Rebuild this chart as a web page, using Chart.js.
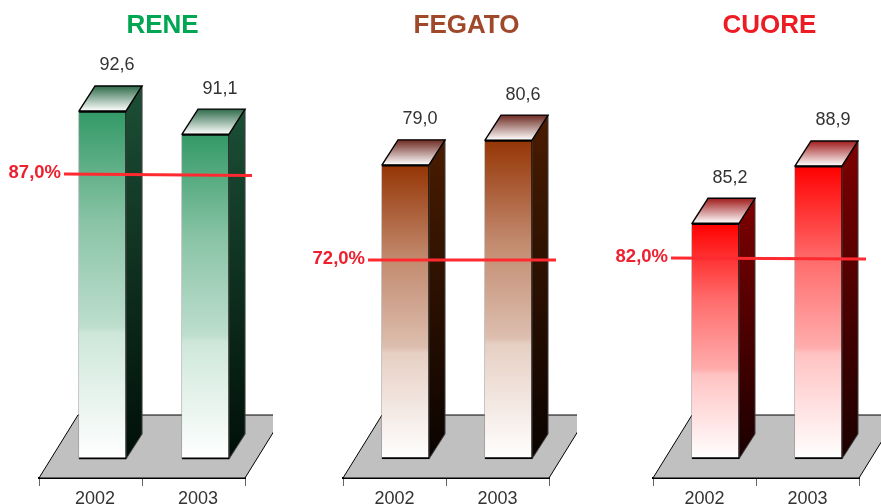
<!DOCTYPE html>
<html><head><meta charset="utf-8">
<style>
html,body{margin:0;padding:0;background:#fff;width:881px;height:504px;overflow:hidden}
canvas{position:absolute;top:0}
</style>
<script src="https://cdn.jsdelivr.net/npm/chart.js@4"></script>
</head><body>
<canvas id="c0" width="325" height="504" style="left:0"></canvas>
<canvas id="c1" width="333" height="504" style="left:300px"></canvas>
<canvas id="c2" width="339" height="504" style="left:600px"></canvas>
<script>
const categories = ['2002', '2003'];
const panelNames = ['RENE', 'FEGATO', 'CUORE'];
const reneValues = [92.6, 91.1];
const fegatoValues = [79.0, 80.6];
const cuoreValues = [85.2, 88.9];
const targetValues = [87.0, 72.0, 82.0];
// y level at which each hand-placed target line sits (start, end)
const reneLineLevels = [88.51, 88.41];
const fegatoLineLevels = [72.85, 72.85];
const cuoreLineLevels = [82.96, 82.90];
const barPositions = [0, 1];
const lineSpanRene = [-0.374, 1.451];
const lineSpanFegato = [-0.364, 1.461];
const lineSpanCuore = [-0.432, 1.461];
const axisBase = [70, 60, 70];
const axisMin = [68.77, 58.77, 68.77];
const axisMax = [96.56, 86.42, 96.38];

const styles = [
  {title:'#00a651', front:'#339966', topBack:'#2f6b4a', sideTop:'#1c4f36', sideBot:'#000f08', left:0, width:325, axisL:39, axisR:245, xMin:-0.617, labelOffset:4.5, titleShift:20.5},
  {title:'#a0492a', front:'#953505', topBack:'#6e2a22', sideTop:'#4a1c00', sideBot:'#0a0300', left:300, width:333, axisL:43, axisR:249, xMin:-0.607, labelOffset:0, titleShift:20.5},
  {title:'#ed1c24', front:'#ff0000', topBack:'#a01c1c', sideTop:'#7f0000', sideBot:'#1a0000', left:600, width:339, axisL:53, axisR:259, xMin:-0.607, labelOffset:0, titleShift:13.5}
];
// fade of the front face towards white: position along the bar, share of white
const fadeStops = [0, 0.32, 0.62, 0.64, 1];
const fadeWhite = [0, 0.42, 0.68, 0.76, 1];
const DEPTH_X = 16, DEPTH_Y = 25, FLOOR_X = 39, FLOOR_Y = 63, FLOOR_CLIP = 28;
const FONT = '"Liberation Sans", Arial, sans-serif';

const fmt = v => v.toFixed(1).replace('.', ',');

function mixWhite(hex, t) {
  const n = parseInt(hex.slice(1), 16);
  const ch = v => Math.round(v + (255 - v) * t);
  return `rgb(${ch(n >> 16)},${ch((n >> 8) & 255)},${ch(n & 255)})`;
}

function faces(style) {
  return {
    id: 'faces',
    afterLayout(chart) {
      chart.titleBlock.left += style.titleShift;
      chart.titleBlock.right += style.titleShift;
    },
    beforeDatasetsDraw(chart) {
      const c = chart.ctx, a = chart.chartArea;
      // floor
      c.save();
      c.beginPath();
      c.rect(a.left - 2, a.bottom - FLOOR_Y - 2, a.right - a.left + FLOOR_CLIP + 2, FLOOR_Y + 4);
      c.clip();
      c.beginPath();
      c.moveTo(a.left, a.bottom);
      c.lineTo(a.left + FLOOR_X, a.bottom - FLOOR_Y);
      c.lineTo(a.right + FLOOR_X, a.bottom - FLOOR_Y);
      c.lineTo(a.right, a.bottom);
      c.closePath();
      c.fillStyle = '#c0c0c0';
      c.fill();
      c.strokeStyle = '#000';
      c.lineWidth = 1;
      c.stroke();
      c.restore();
      // side and top faces of each bar
      chart.getDatasetMeta(0).data.forEach(el => {
        const L = el.x - el.width / 2, R = el.x + el.width / 2, T = el.y, B = el.base;
        let g = c.createLinearGradient(0, T - DEPTH_Y, 0, B);
        g.addColorStop(0, style.sideTop);
        g.addColorStop(1, style.sideBot);
        c.beginPath();
        c.moveTo(R, T); c.lineTo(R + DEPTH_X, T - DEPTH_Y); c.lineTo(R + DEPTH_X, B - DEPTH_Y); c.lineTo(R, B); c.closePath();
        c.fillStyle = g; c.fill();
        c.strokeStyle = '#444'; c.lineWidth = 1; c.stroke();
        g = c.createLinearGradient(0, T - DEPTH_Y, 0, T);
        g.addColorStop(0, style.topBack);
        g.addColorStop(1, '#ffffff');
        c.beginPath();
        c.moveTo(L, T); c.lineTo(L + DEPTH_X, T - DEPTH_Y); c.lineTo(R + DEPTH_X, T - DEPTH_Y); c.lineTo(R, T); c.closePath();
        c.fillStyle = g; c.fill();
        c.strokeStyle = '#000'; c.lineWidth = 1.4; c.stroke();
        // grey left edge of the front face
        c.beginPath();
        c.moveTo(L, T); c.lineTo(L, B);
        c.strokeStyle = '#8a8a8a'; c.lineWidth = 1; c.stroke();
      });
    },
    afterDatasetsDraw(chart) {
      const c = chart.ctx;
      const bars = chart.getDatasetMeta(0), vals = chart.data.datasets[0].data;
      c.save();
      c.textAlign = 'center'; c.textBaseline = 'middle';
      c.fillStyle = '#333'; c.font = '18px ' + FONT;
      bars.data.forEach((el, i) => c.fillText(fmt(vals[i].y), el.x + 14.5, el.y - 45.5));
      const p = chart.getDatasetMeta(1).data[0];
      c.textAlign = 'right'; c.fillStyle = '#ee2030'; c.font = 'bold 18.5px ' + FONT;
      c.fillText(fmt(chart.options.plugins.faces.target) + '%', p.x - 3, p.y - 1);
      c.restore();
    }
  };
}

function panel(i, values, lineLevels, lineSpan) {
  const s = styles[i];
  new Chart(document.getElementById('c' + i), {
    type: 'bar',
    data: {
      datasets: [{
        data: barPositions.map((x, k) => ({x, y: values[k]})),
        xAxisID: 'xb', yAxisID: 'y', order: 2,
        base: axisBase[i], barThickness: 47,
        borderColor: '#000', borderWidth: {top: 2, bottom: 2, left: 0, right: 1}, borderSkipped: false,
        backgroundColor(ctx) {
          const ch = ctx.chart, y = ch.scales.y;
          if (!y || ctx.raw === undefined) return s.front;
          const y0 = y.getPixelForValue(ctx.raw.y), y1 = y.getPixelForValue(axisBase[i]);
          if (!isFinite(y0) || !isFinite(y1)) return s.front;
          const g = ch.ctx.createLinearGradient(0, y0, 0, y1);
          fadeStops.forEach((t, k) => g.addColorStop(t, mixWhite(s.front, fadeWhite[k])));
          return g;
        }
      }, {
        type: 'line',
        data: lineSpan.map((x, k) => ({x, y: lineLevels[k]})),
        xAxisID: 'xb', yAxisID: 'y', order: 1,
        borderColor: '#ff2a30', borderWidth: 3, pointRadius: 0, clip: false, tension: 0
      }]
    },
    options: {
      responsive: false, animation: false,
      layout: {padding: {left: s.axisL, right: s.width - s.axisR, top: 0, bottom: 0}},
      plugins: {
        legend: {display: false}, tooltip: {enabled: false},
        title: {display: true, text: panelNames[i], color: s.title,
          font: {family: FONT, size: 26, weight: 'bold', lineHeight: 1.2},
          padding: {top: 10, bottom: 8.8}},
        faces: {target: targetValues[i]}
      },
      scales: {
        x: {type: 'category', labels: categories, offset: true, position: 'bottom',
          afterFit: sc => { sc.height = 26; },
          grid: {offset: true, drawOnChartArea: false, tickLength: 8, color: '#666'},
          border: {color: '#000', width: 2},
          ticks: {color: '#333', padding: 2, maxRotation: 0, labelOffset: s.labelOffset, font: {family: FONT, size: 18}}},
        xb: {type: 'linear', display: false, offset: false, min: s.xMin, max: s.xMin + 2, grid: {offset: false}},
        y: {display: false, min: axisMin[i], max: axisMax[i]}
      }
    },
    plugins: [faces(s)]
  });
}
panel(0, reneValues, reneLineLevels, lineSpanRene);
panel(1, fegatoValues, fegatoLineLevels, lineSpanFegato);
panel(2, cuoreValues, cuoreLineLevels, lineSpanCuore);
</script>
</body></html>
